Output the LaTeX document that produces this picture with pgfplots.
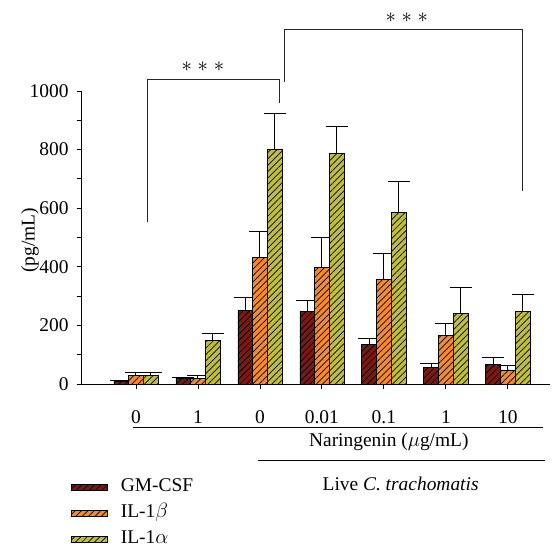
\documentclass[border=0pt]{standalone}
\usepackage{fontspec}
\setmainfont{Liberation Serif}
\usepackage{pgfplots}
\pgfplotsset{compat=1.18}
\usetikzlibrary{patterns.meta}
\definecolor{gmcsf}{RGB}{122,26,20}
\definecolor{ilb}{RGB}{245,138,40}
\definecolor{ila}{RGB}{190,190,58}
\tikzset{hatch/.style={postaction={pattern={Lines[angle=45,distance=4.5bp,line width=0.7bp]},pattern color=black}}}
\newcommand{\fs}{\fontsize{19.5}{22}\selectfont}
\begin{document}
\begin{tikzpicture}
\begin{axis}[
  scale only axis, width=468bp, height=293bp,
  xmin=-0.87, xmax=6.68, ymin=0, ymax=1000,
  axis x line*=bottom, axis y line*=left,
  clip=false,
  ybar, bar width=0.237,
  xtick={0,...,6}, xticklabels={0,1,0,0.01,0.1,1,10},
  ytick={0,200,...,1000}, minor ytick={100,300,...,900},
  tick align=outside, major tick length=5bp, minor tick length=5bp,
  tick style={black, line width=0.8bp},
  axis line style={black, line width=1bp},
  font=\fs,
  tick label style={font=\fs},
  /pgf/number format/assume math mode=true,
  /pgf/number format/1000 sep={},
  yticklabel style={xshift=-5bp},
  xticklabel style={yshift=-18bp},
  ylabel={(pg/mL)},
  ylabel style={at={(axis description cs:-0.111,0.49)}, anchor=center, font=\fs},
  error bars/y dir=plus, error bars/y explicit,
  error bars/error bar style={black, line width=1bp},
  error bars/error mark options={rotate=90, mark size=11bp, line width=1bp, black},
  legend image code/.code={\draw[#1, line width=0.7bp] (0bp,-3bp) rectangle (36bp,3bp);},
  legend style={at={(axis description cs:-0.03,-0.30)}, anchor=north west, draw=none, fill=none,
    font=\fs, row sep=0bp, column sep=10bp, nodes={inner sep=3bp, text height=14bp, text depth=6bp}},
  legend cell align=left,
]
\addplot[fill=gmcsf, draw=black, line width=0.7bp, bar shift=-0.237, hatch] coordinates {
  (0,8) +- (0,3)
  (1,20) +- (0,3)
  (2,251) +- (0,44)
  (3,247) +- (0,37)
  (4,136) +- (0,21)
  (5,57) +- (0,13)
  (6,68) +- (0,23)
};
\addlegendentry{GM-CSF}
\addplot[fill=ilb, draw=black, line width=0.7bp, bar shift=0, hatch] coordinates {
  (0,30) +- (0,9)
  (1,20) +- (0,10)
  (2,431) +- (0,88)
  (3,398) +- (0,101)
  (4,358) +- (0,89)
  (5,167) +- (0,41)
  (6,48) +- (0,14)
};
\addlegendentry{IL-1$\beta$}
\addplot[fill=ila, draw=black, line width=0.7bp, bar shift=0.237, hatch] coordinates {
  (0,30) +- (0,9)
  (1,150) +- (0,23)
  (2,801) +- (0,121)
  (3,787) +- (0,91)
  (4,587) +- (0,105)
  (5,242) +- (0,88)
  (6,248) +- (0,57)
};
\addlegendentry{IL-1$\alpha$}
% significance brackets
\draw[line width=1bp, black!85] (axis cs:0.18,552) |- (axis cs:2.31,1040) -- (axis cs:2.31,958);
\node[font=\fs] at (axis cs:1.08,1084) {${\ast}\;{\ast}\;{\ast}$};
\draw[line width=1bp, black!85] (axis cs:2.40,1030) |- (axis cs:6.24,1210) -- (axis cs:6.24,658);
\node[font=\fs] at (axis cs:4.37,1250) {${\ast}\;{\ast}\;{\ast}$};
% group lines and labels
\draw[line width=1bp] (axis cs:-0.05,-147) -- (axis cs:6.56,-147);
\node[font=\fs] at (axis cs:4.08,-198) {Naringenin ($\mu$g/mL)};
\draw[line width=1bp] (axis cs:1.97,-262) -- (axis cs:6.6,-262);
\node[font=\fs] at (axis cs:4.27,-341) {Live \textit{C. trachomatis}};
\end{axis}
\pgfresetboundingbox
\path[use as bounding box] (-82bp,-170bp) rectangle (475bp,384bp);
\end{tikzpicture}
\end{document}
